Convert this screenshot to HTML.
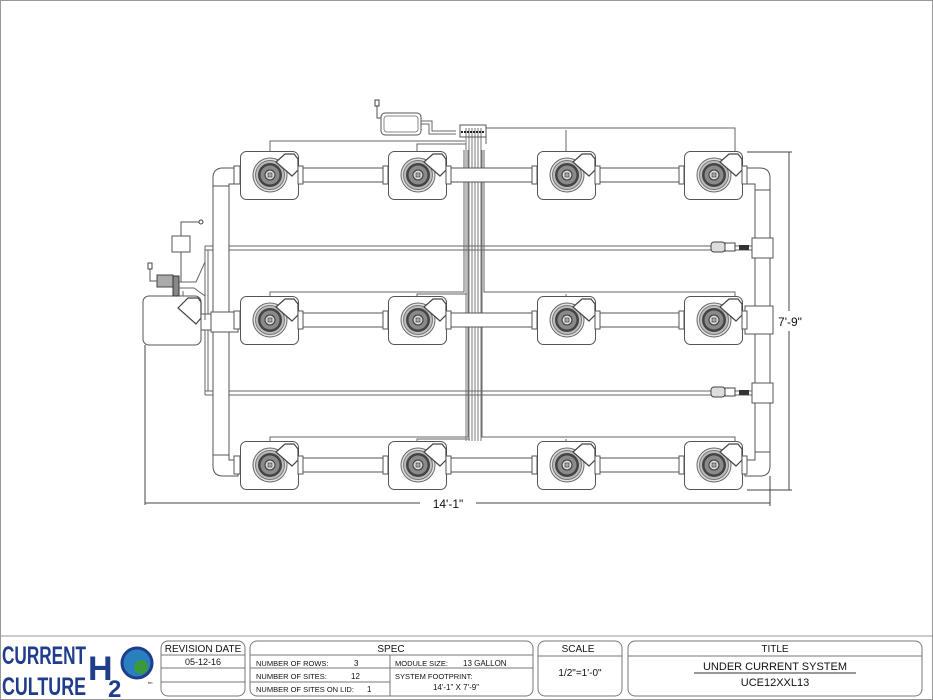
<!DOCTYPE html>
<html><head><meta charset="utf-8"><style>
html,body{margin:0;padding:0;background:#fff;}
svg{display:block;}
text{font-family:"Liberation Sans",Arial,sans-serif;fill:#111;}
</style></head><body>
<svg width="933" height="700" viewBox="0 0 933 700" xmlns="http://www.w3.org/2000/svg">
<defs>
<g id="bk">
  <rect x="0.5" y="0.5" width="58" height="48" rx="6" fill="#fff" stroke="#555" stroke-width="1"/>
  <circle cx="30" cy="24" r="17" fill="#e4e4e4" stroke="#666"/>
  <circle cx="30" cy="24" r="14.5" fill="#bbb" stroke="#777"/>
  <circle cx="30" cy="24" r="12" fill="#444"/>
  <circle cx="30" cy="24" r="9.5" fill="#8a8a8a"/>
  <circle cx="30" cy="24" r="5" fill="#ddd" stroke="#333"/>
  <rect x="28" y="22" width="4" height="4" fill="#aaa" stroke="#333" stroke-width="0.6"/>
  <path d="M36 11 L45 3 L54 3 L58 8 L58 19 L52 25 Z" fill="#fff" stroke="#444" stroke-width="1.2"/>
</g>
</defs>
<rect x="0.5" y="0.5" width="932" height="699" fill="none" stroke="#999"/>

<!-- control/sensor lines -->
<g fill="none" stroke="#666" stroke-width="1">
  <path d="M270 151 V141 H465"/><path d="M270 151 V143"/>
  <path d="M417 151 V144 H466"/>
  <path d="M486 144 V127"/>
  <path d="M486 128 H735 V151"/>
  <path d="M566 151 V130"/>
  <path d="M270 296 V292 H464 V150"/>
  <path d="M417 296 V294 H467"/>
  <path d="M484 150 V292 H735 V296"/>
  <path d="M566 296 V294"/>
  <path d="M270 441 V437 H468 V150"/>
  <path d="M417 441 V439 H470"/>
  <path d="M482 150 V437 H735 V441"/>
  <path d="M566 441 V439"/>
</g>
<g stroke="#777" stroke-width="1">
  <line x1="466" y1="128" x2="466" y2="441"/><line x1="469" y1="128" x2="469" y2="441"/>
  <line x1="472" y1="128" x2="472" y2="441"/><line x1="475" y1="128" x2="475" y2="441"/>
  <line x1="478" y1="128" x2="478" y2="441"/><line x1="481" y1="128" x2="481" y2="441"/>
</g>
<rect x="460" y="125" width="26" height="12" fill="none" stroke="#555"/>
<line x1="461" y1="132" x2="485" y2="132" stroke="#222" stroke-width="2" stroke-dasharray="2,1"/>

<!-- top controller -->
<rect x="381" y="113" width="40" height="22" rx="4" fill="#fff" stroke="#555"/>
<rect x="384" y="116" width="34" height="16" rx="3" fill="none" stroke="#888"/>
<path d="M421 121 H432 V131 H456 M421 124 H429 V134 H456" fill="none" stroke="#666"/>
<path d="M377 101 V118 H381" fill="none" stroke="#555"/>
<rect x="375" y="100" width="4" height="6" fill="#fff" stroke="#444"/>

<!-- air lines -->
<g fill="none" stroke="#666">
  <path d="M205 246 H755 M205 250 H755"/>
  <path d="M205 391 H755 M205 395 H755"/>
  <path d="M205 246 V395 M208 250 V391"/>
</g>
<!-- check valves -->
<g>
  <rect x="711" y="242" width="14" height="10" rx="3" fill="#ddd" stroke="#444"/>
  <rect x="725" y="243" width="10" height="8" fill="#fff" stroke="#444"/>
  <rect x="739" y="245" width="10" height="5" fill="#333"/>
  <rect x="711" y="387" width="14" height="10" rx="3" fill="#ddd" stroke="#444"/>
  <rect x="725" y="388" width="10" height="8" fill="#fff" stroke="#444"/>
  <rect x="739" y="390" width="10" height="5" fill="#333"/>
</g>

<!-- left main pipe -->
<g fill="#fff" stroke="#555">
  <rect x="213" y="176" width="16" height="290"/>
  <path d="M213 186 V178 Q213 168 223 168 H238 V184 H229 V186 Z"/>
  <rect x="211" y="312" width="27" height="20"/>
  <path d="M213 455 V466 Q213 476 223 476 H238 V460 H229 V455 Z"/>
</g>
<!-- right main pipe -->
<g fill="#fff" stroke="#555">
  <rect x="755" y="186" width="15" height="276"/>
  <path d="M745 168 H760 Q770 168 770 178 V190 H755 V184 H745 Z"/>
  <rect x="752" y="238" width="21" height="20"/>
  <rect x="745" y="306" width="28" height="28"/>
  <rect x="752" y="383" width="21" height="20"/>
  <path d="M745 476 H760 Q770 476 770 466 V452 H755 V460 H745 Z"/>
</g>

<!-- horizontal pipes rows -->
<g fill="#fff" stroke="#555">
  <rect x="298" y="168" width="90" height="14"/><rect x="446" y="168" width="91" height="14"/><rect x="595" y="168" width="89" height="14"/>
  <rect x="298" y="313" width="90" height="14"/><rect x="446" y="313" width="91" height="14"/><rect x="595" y="313" width="89" height="14"/>
  <rect x="298" y="458" width="90" height="14"/><rect x="446" y="458" width="91" height="14"/><rect x="595" y="458" width="89" height="14"/>
</g>

<!-- buckets -->
<use href="#bk" x="240" y="151"/><use href="#bk" x="388" y="151"/><use href="#bk" x="537" y="151"/><use href="#bk" x="684" y="151"/>
<use href="#bk" x="240" y="296"/><use href="#bk" x="388" y="296"/><use href="#bk" x="537" y="296"/><use href="#bk" x="684" y="296"/>
<use href="#bk" x="240" y="441"/><use href="#bk" x="388" y="441"/><use href="#bk" x="537" y="441"/><use href="#bk" x="684" y="441"/>
<!-- fittings -->
<g fill="#fff" stroke="#555">
  <rect x="234" y="166" width="6" height="18"/><rect x="298" y="166" width="5" height="18"/><rect x="383" y="166" width="5" height="18"/><rect x="446" y="166" width="5" height="18"/>
  <rect x="532" y="166" width="5" height="18"/><rect x="595" y="166" width="5" height="18"/><rect x="679" y="166" width="5" height="18"/><rect x="742" y="166" width="5" height="18"/>
  <rect x="234" y="311" width="6" height="18"/><rect x="298" y="311" width="5" height="18"/><rect x="383" y="311" width="5" height="18"/><rect x="446" y="311" width="5" height="18"/>
  <rect x="532" y="311" width="5" height="18"/><rect x="595" y="311" width="5" height="18"/><rect x="679" y="311" width="5" height="18"/><rect x="742" y="311" width="5" height="18"/>
  <rect x="234" y="456" width="6" height="18"/><rect x="298" y="456" width="5" height="18"/><rect x="383" y="456" width="5" height="18"/><rect x="446" y="456" width="5" height="18"/>
  <rect x="532" y="456" width="5" height="18"/><rect x="595" y="456" width="5" height="18"/><rect x="679" y="456" width="5" height="18"/><rect x="742" y="456" width="5" height="18"/>
</g>

<!-- reservoir -->
<rect x="143" y="296" width="58" height="49" rx="6" fill="#fff" stroke="#555"/>
<path d="M178 308 L188 298 L198 298 L201 302 L201 318 L196 324 Z" fill="#fff" stroke="#444" stroke-width="1.2"/>
<rect x="201" y="314" width="10" height="16" fill="#fff" stroke="#555"/>
<!-- pump & air pump -->
<rect x="157" y="275" width="16" height="12" fill="#aaa" stroke="#444"/>
<rect x="173" y="276" width="6" height="20" fill="#888" stroke="#333"/>
<path d="M179 282 H196 L205 262 V246 M179 288 H194 L205 296 V320 M183 291 V296" fill="none" stroke="#666"/>
<rect x="172" y="236" width="18" height="16" fill="#fff" stroke="#555"/>
<path d="M181 252 V282 M181 236 V222 H190 M190 222 H200" fill="none" stroke="#555"/>
<circle cx="201" cy="222" r="2" fill="#fff" stroke="#444"/>
<path d="M157 281 H150 V266" fill="none" stroke="#555"/>
<rect x="148" y="263" width="4" height="6" fill="#fff" stroke="#444"/>

<!-- dimensions -->
<g stroke="#444" fill="none">
  <line x1="145" y1="345" x2="145" y2="505"/>
  <line x1="145" y1="503" x2="420" y2="503"/><line x1="476" y1="503" x2="770" y2="503"/>
  <line x1="770" y1="476" x2="770" y2="506"/>
  <line x1="747" y1="152" x2="792" y2="152"/>
  <line x1="747" y1="490" x2="792" y2="490"/>
  <line x1="789" y1="152" x2="789" y2="311"/><line x1="789" y1="331" x2="789" y2="490"/>
</g>
<text x="448" y="508" font-size="12" text-anchor="middle">14'-1"</text>
<text x="790" y="326" font-size="12" text-anchor="middle">7'-9"</text>

<!-- title block -->
<line x1="0" y1="636" x2="933" y2="636" stroke="#999"/>
<g fill="none" stroke="#777">
  <rect x="161" y="641" width="84" height="55" rx="7"/>
  <line x1="161" y1="655" x2="245" y2="655"/><line x1="161" y1="668" x2="245" y2="668"/><line x1="161" y1="682" x2="245" y2="682"/>
  <rect x="250" y="641" width="283" height="55" rx="7"/>
  <line x1="250" y1="655" x2="533" y2="655"/>
  <line x1="250" y1="668" x2="390" y2="668"/><line x1="250" y1="682" x2="390" y2="682"/><line x1="390" y1="668" x2="533" y2="668"/>
  <line x1="390" y1="655" x2="390" y2="696"/>
  <rect x="538" y="641" width="84" height="55" rx="7"/>
  <line x1="538" y1="656" x2="622" y2="656"/>
  <rect x="628" y="641" width="294" height="55" rx="7"/>
  <line x1="628" y1="656" x2="922" y2="656"/>
  <line x1="694" y1="673" x2="856" y2="673" stroke="#333"/>
</g>
<g font-size="10">
  <text x="203" y="652" text-anchor="middle">REVISION DATE</text>
  <text x="203" y="665" text-anchor="middle" font-size="9">05-12-16</text>
  <text x="391" y="652" text-anchor="middle">SPEC</text>
  <text x="256" y="666" font-size="7.5">NUMBER OF ROWS:</text><text x="354" y="666" font-size="8">3</text>
  <text x="256" y="679" font-size="7.5">NUMBER OF SITES:</text><text x="351" y="679" font-size="8">12</text>
  <text x="256" y="692" font-size="7.5">NUMBER OF SITES ON LID:</text><text x="367" y="692" font-size="8">1</text>
  <text x="395" y="666" font-size="7.5">MODULE SIZE:</text><text x="463" y="666" font-size="8">13 GALLON</text>
  <text x="395" y="679" font-size="7.5">SYSTEM FOOTPRINT:</text>
  <text x="456" y="690" font-size="8" text-anchor="middle">14'-1" X 7'-9"</text>
  <text x="578" y="652" text-anchor="middle">SCALE</text>
  <text x="580" y="676" text-anchor="middle">1/2"=1'-0"</text>
  <text x="775" y="652" text-anchor="middle">TITLE</text>
  <text x="775" y="670" text-anchor="middle" font-size="11">UNDER CURRENT SYSTEM</text>
  <text x="775" y="686" text-anchor="middle" font-size="11">UCE12XXL13</text>
</g>
<!-- logo -->
<g>
  <text x="2" y="664" font-size="25" font-weight="bold" fill="#1f3d8a" style="fill:#1f3d8a" textLength="84" lengthAdjust="spacingAndGlyphs">CURRENT</text>
  <text x="2" y="695" font-size="25" font-weight="bold" style="fill:#1f3d8a" textLength="84" lengthAdjust="spacingAndGlyphs">CULTURE</text>
  <text x="88" y="680" font-size="34" font-weight="bold" style="fill:#1f3d8a">H</text>
  <text x="108" y="697" font-size="24" font-weight="bold" style="fill:#1f3d8a">2</text>
  <circle cx="137" cy="663" r="15" fill="#2a7fc0" stroke="#1f3d8a" stroke-width="3"/>
  <circle cx="141" cy="667" r="7" fill="#3a9a3a"/>
  <text x="148" y="684" font-size="4">tm</text>
</g>
</svg>
</body></html>
